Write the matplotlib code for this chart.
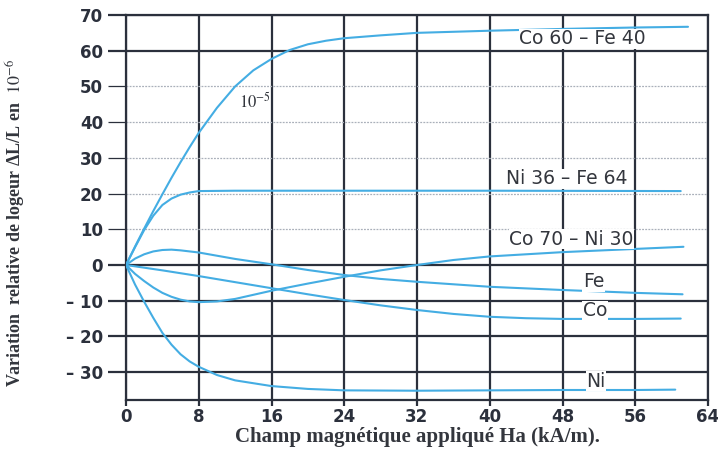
import matplotlib
matplotlib.use('Agg')
import matplotlib.pyplot as plt

plt.rcParams.update({
    'font.family': 'DejaVu Sans',
    'mathtext.fontset': 'stix',
})

CURVE = '#44ade3'
DARK  = '#2b303c'
LIGHT = '#aab0ba'
TEXT  = '#33363d'

# ── data (x in kA/m, y in 1e-6) ────────────────────────────────────────────
co60_x = [0, 1, 2, 3, 4, 5, 6, 7, 8, 10, 12, 14, 16, 18, 20, 22, 24, 28, 32, 40, 48, 56, 61.8]
co60_y = [0, 5.2, 10.2, 15.1, 19.8, 24.4, 28.8, 33.0, 37.0, 44.0, 50.0, 54.5, 57.7, 60.2, 61.8,
          62.8, 63.5, 64.3, 65.0, 65.6, 66.1, 66.5, 66.7]

ni36_x = [0, 1, 2, 3, 4, 5, 6, 7, 8, 12, 24, 40, 61]
ni36_y = [0, 5.0, 9.8, 13.8, 16.8, 18.6, 19.7, 20.3, 20.7, 20.8, 20.8, 20.8, 20.7]

co70_x = [0, 1, 2, 3, 4, 5, 6, 7, 8, 10, 12, 16, 20, 24, 28, 32, 36, 40, 48, 56, 61.3]
co70_y = [0, -2.5, -4.5, -6.3, -7.8, -8.9, -9.7, -10.2, -10.4, -10.2, -9.5, -7.2, -5.2, -3.3,
          -1.5, 0, 1.4, 2.4, 3.6, 4.5, 5.1]

fe_x = [0, 1, 2, 3, 4, 5, 6, 8, 10, 12, 16, 20, 24, 28, 32, 40, 48, 56, 61.2]
fe_y = [0, 1.8, 3.0, 3.8, 4.2, 4.3, 4.1, 3.5, 2.6, 1.7, 0.2, -1.4, -2.8, -3.9, -4.7, -6.1,
        -7.0, -7.8, -8.2]

co_x = [0, 4, 8, 12, 16, 20, 24, 28, 32, 36, 40, 44, 48, 56, 61]
co_y = [0, -1.5, -3.1, -4.8, -6.5, -8.2, -9.8, -11.3, -12.6, -13.7, -14.5, -14.9, -15.1,
        -15.1, -15.0]

ni_x = [0, 1, 2, 3, 4, 5, 6, 7, 8, 10, 12, 16, 20, 24, 32, 40, 48, 56, 60.4]
ni_y = [0, -5.5, -10.3, -14.8, -19.0, -22.3, -25.0, -27.0, -28.5, -30.8, -32.3, -33.9,
        -34.7, -35.1, -35.2, -35.1, -35.0, -35.0, -34.9]

curves = [(co60_x, co60_y), (ni36_x, ni36_y), (co70_x, co70_y),
          (fe_x, fe_y), (co_x, co_y), (ni_x, ni_y)]

labels     = ['Co 60 – Fe 40', 'Ni 36 – Fe 64', 'Co 70 – Ni 30', 'Fe', 'Co', 'Ni']
label_x    = [50.2, 48.5, 49.0, 51.4, 51.6, 51.7]
label_y    = [63.3, 24.1, 7.2, -4.7, -12.8, -32.5]

x_ticks      = [0, 8, 16, 24, 32, 40, 48, 56, 64]
y_ticks      = [-30, -20, -10, 0, 10, 20, 30, 40, 50, 60, 70]
y_light      = [10, 20, 30, 40, 50]

# ══════════════════════════════════════════════════════════════════════════════
fig = plt.figure(figsize=(7.18, 4.54), dpi=100)
ax = fig.add_axes([126 / 718, 1 - 400 / 454, 582 / 718, 385 / 454])
ax.set_xlim(0, 64)
ax.set_ylim(-37.8, 70)

# grid
for xv in x_ticks:
    ax.axvline(xv, color=DARK, lw=1.6, zorder=1)
for yv in y_ticks:
    if yv in y_light:
        ax.axhline(yv, color=LIGHT, lw=0.9, ls=(0, (1.5, 1)), zorder=1)
    else:
        ax.axhline(yv, color=DARK, lw=1.6, zorder=1)

for sp in ax.spines.values():
    sp.set_color(DARK)
    sp.set_linewidth(1.6)

for cx, cy in curves:
    ax.plot(cx, cy, color=CURVE, lw=1.5, zorder=3, solid_capstyle='round')

for lab, lx, ly in zip(labels, label_x, label_y):
    ax.text(lx, ly, lab, ha='center', va='center', fontsize=13.5, color=TEXT, zorder=4,
            bbox=dict(facecolor='white', edgecolor='none', pad=0.4))

ax.text(14.2, 45.7, r'$10^{-5}$', ha='center', va='center', fontsize=12, color=TEXT, zorder=4)

# ticks
ax.set_xticks(x_ticks)
ax.set_xticklabels([str(v) for v in x_ticks])
ax.set_yticks(y_ticks)
ax.set_yticklabels([('– %d' % -v) if v < 0 else str(v) for v in y_ticks])
ax.tick_params(axis='y', length=13, width=1.6, color=DARK, pad=3.5)
ax.tick_params(axis='x', length=4, width=1.6, color=DARK, pad=1.5)
for tk, yv in zip(ax.yaxis.get_major_ticks(), y_ticks):
    if yv in y_light:
        tk.tick1line.set_color(LIGHT)
        tk.tick1line.set_markeredgewidth(0.9)
for lbl in ax.get_xticklabels() + ax.get_yticklabels():
    lbl.set_fontweight('bold')
    lbl.set_fontsize(12)
    lbl.set_color(DARK)

ax.set_xlabel('Champ magnétique appliqué Ha (kA/m).', family='Liberation Serif',
              fontweight='bold', fontsize=15, color=TEXT, labelpad=1)
ax.set_ylabel('Variation  relative de logeur ΔL/L en  $10^{-6}$', family='Liberation Serif',
              fontweight='bold', fontsize=13, color=TEXT)
ax.yaxis.set_label_coords(-0.168, 0.46)

fig.savefig('out.png', dpi=100)
